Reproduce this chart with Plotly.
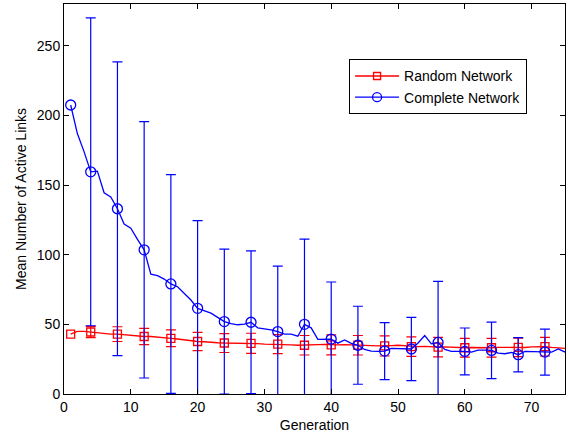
import plotly.graph_objects as go

# Mean number of active links per generation for the two network types
generations = list(range(1, 76))

complete_mean = [
    207.5, 187.0, 174.0, 159.5, 160.0, 144.5, 141.5, 133.0, 122.0, 119.0,
    111.0, 103.5, 86.0, 85.0, 82.5, 79.0, 77.0, 72.0, 67.5, 61.5,
    59.5, 58.0, 55.0, 52.0, 50.5, 49.7, 50.2, 51.5, 47.5, 46.8,
    46.0, 44.8, 43.0, 43.0, 41.5, 50.0, 47.5, 39.2, 39.2, 39.4,
    36.5, 38.8, 36.3, 35.0, 32.0, 30.8, 30.6, 30.8, 32.8, 32.5,
    32.3, 32.3, 36.6, 42.0, 36.0, 37.0, 32.0, 30.6, 30.6, 30.6,
    30.0, 31.5, 31.5, 31.3, 29.4, 28.9, 29.8, 28.2, 30.6, 30.6,
    30.3, 30.1, 30.1, 32.3, 30.1,
]

random_mean = [
    43.0, 45.0, 45.0, 44.5, 44.0, 43.0, 43.0, 43.0, 42.5, 41.8,
    41.5, 41.3, 41.3, 41.0, 40.5, 40.0, 39.5, 38.8, 38.2, 37.7,
    37.5, 37.0, 36.8, 36.6, 36.6, 36.5, 36.4, 36.4, 36.2, 35.8,
    35.7, 35.8, 35.8, 35.3, 35.0, 35.0, 35.2, 35.4, 35.6, 35.3,
    35.3, 35.5, 35.2, 35.0, 34.8, 34.8, 34.6, 34.5, 34.8, 35.0,
    34.5, 34.0, 34.0, 34.2, 33.8, 33.6, 33.8, 33.5, 33.3, 33.2,
    33.4, 33.3, 33.0, 33.2, 33.5, 33.4, 33.3, 33.5, 33.4, 33.8,
    34.0, 34.0, 33.5, 33.0, 32.8,
]

# Generations that carry a marker, and those that also carry an error bar
marker_gens = [1] + list(range(4, 73, 4))
errbar_gens = list(range(4, 73, 4))

complete_std = [
    110.5, 105.5, 92.0, 78.5, 63.0, 52.0, 51.3, 47.0, 61.2,
    41.0, 28.0, 20.5, 22.7, 43.8, 16.8, 20.3, 12.3, 16.5,
]
random_std = [
    4.0, 5.3, 5.8, 6.0, 6.6, 6.8, 7.2, 6.8, 7.0,
    7.2, 7.0, 7.2, 7.0, 7.0, 6.7, 6.7, 6.6, 6.7,
]

series = [
    ("Random Network", random_mean, random_std, "#ff0000", "square-open", 8),
    ("Complete Network", complete_mean, complete_std, "#0000ff", "circle-open", 10),
]

FONT = "Liberation Sans, Arial, Helvetica, sans-serif"

fig = go.Figure()

for name, mean, std, color, symbol, msize in series:
    lookup = dict(zip(generations, mean))
    # continuous per-generation curve
    fig.add_trace(go.Scatter(
        x=generations, y=mean, mode="lines",
        line=dict(color=color, width=1.3),
        showlegend=False, hoverinfo="skip",
    ))
    # error bars (mean +/- std) at every fourth generation
    fig.add_trace(go.Scatter(
        x=errbar_gens, y=[lookup[g] for g in errbar_gens], mode="markers",
        marker=dict(symbol=symbol, size=msize, color=color,
                    line=dict(color=color, width=1.3)),
        error_y=dict(type="data", array=std, symmetric=True,
                     color=color, thickness=1.2, width=5),
        showlegend=False,
    ))
    # first-generation marker (no error bar)
    first = [g for g in marker_gens if g not in errbar_gens]
    fig.add_trace(go.Scatter(
        x=first, y=[lookup[g] for g in first], mode="markers",
        marker=dict(symbol=symbol, size=msize, color=color,
                    line=dict(color=color, width=1.3)),
        showlegend=False,
    ))
    # legend entry
    fig.add_trace(go.Scatter(
        x=[None], y=[None], mode="lines+markers", name=name,
        line=dict(color=color, width=1.3),
        marker=dict(symbol=symbol, size=msize - 1, color=color,
                    line=dict(color=color, width=1.3)),
    ))

axis_common = dict(
    showline=True, linecolor="black", linewidth=1, mirror="ticks",
    ticks="inside", ticklen=5, tickcolor="black", tickwidth=1,
    showgrid=False, zeroline=False,
    tickfont=dict(family=FONT, size=14, color="black"),
)

fig.update_xaxes(
    range=[0, 75], tick0=0, dtick=10,
    title=dict(text="Generation", font=dict(family=FONT, size=14, color="black"),
               standoff=6),
    **axis_common,
)
fig.update_yaxes(
    range=[0, 280], tick0=0, dtick=50,
    title=dict(text="Mean Number of Active Links",
               font=dict(family=FONT, size=14, color="black"), standoff=6),
    **axis_common,
)

fig.update_layout(
    width=568, height=434,
    margin=dict(l=64, r=3, t=4, b=40, autoexpand=False),
    paper_bgcolor="white", plot_bgcolor="white",
    font=dict(family=FONT, size=14, color="black"),
    legend=dict(
        x=0.569, y=0.858, xanchor="left", yanchor="top",
        bordercolor="black", borderwidth=1, bgcolor="white",
        font=dict(family=FONT, size=14, color="black"),
        itemwidth=44, tracegroupgap=0,
    ),
    showlegend=True,
)

fig.write_html("out.html")
